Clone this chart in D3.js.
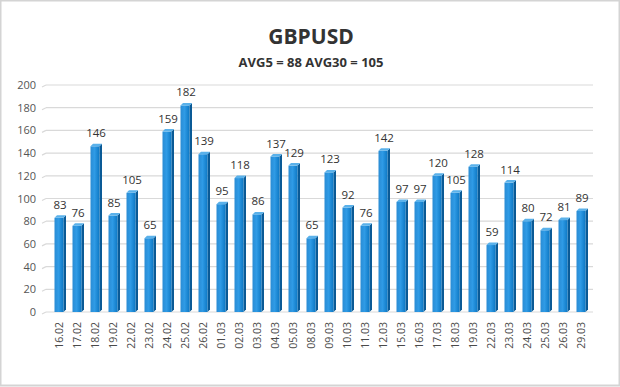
<!DOCTYPE html>
<meta charset="utf-8" />
<script src="https://d3js.org/d3.v7.js"></script>
<style>
  body { margin: 0; background: #fff; }
  text { font-family: "Open Sans", "DejaVu Sans", sans-serif; }
</style>
<div id="my_dataviz"></div>
<script>
  // data
  const dates = ["16.02", "17.02", "18.02", "19.02", "22.02", "23.02", "24.02", "25.02", "26.02",
    "01.03", "02.03", "03.03", "04.03", "05.03", "08.03", "09.03", "10.03", "11.03", "12.03",
    "15.03", "16.03", "17.03", "18.03", "19.03", "22.03", "23.03", "24.03", "25.03", "26.03", "29.03"];
  const values = [83, 76, 146, 85, 105, 65, 159, 182, 139, 95, 118, 86, 137, 129, 65, 123, 92, 76,
    142, 97, 97, 120, 105, 128, 59, 114, 80, 72, 81, 89];
  const yTicks = [0, 20, 40, 60, 80, 100, 120, 140, 160, 180, 200];
  const title = "GBPUSD";
  const subtitle = "AVG5 = 88 AVG30 = 105";

  const width = 620, height = 387;
  const svg = d3.select("#my_dataviz").append("svg")
    .attr("width", width).attr("height", height);

  // frame
  svg.append("rect")
    .attr("x", 0.5).attr("y", 0.5)
    .attr("width", width - 1).attr("height", height - 2)
    .attr("fill", "#fff").attr("stroke", "#d4d4d4").attr("stroke-width", 2);

  svg.append("text").attr("x", 311).attr("y", 44)
    .attr("text-anchor", "middle").style("font-size", "21px").style("font-weight", "bold")
    .style("fill", "#333").text(title);
  svg.append("text").attr("x", 311).attr("y", 67)
    .attr("text-anchor", "middle").style("font-size", "13px").style("font-weight", "bold")
    .style("fill", "#333").text(subtitle);

  const x = d3.scaleBand().domain(dates).range([50, 590]).paddingInner(0.5).paddingOuter(0.25);
  const y = d3.scaleLinear().domain([0, 200]).range([312, 85]);

  // grid
  svg.append("g").selectAll("line").data(yTicks).join("line")
    .attr("x1", 46).attr("x2", 593)
    .attr("y1", d => y(d)).attr("y2", d => y(d))
    .attr("stroke", "#d9d9d9").attr("stroke-width", 1.2);
  svg.append("g").selectAll("line").data(yTicks).join("line")
    .attr("x1", 42).attr("x2", 46)
    .attr("y1", d => y(d) + 2).attr("y2", d => y(d))
    .attr("stroke", "#d9d9d9").attr("stroke-width", 1.2);

  svg.append("g").selectAll("text").data(yTicks).join("text")
    .attr("x", 36).attr("y", d => y(d) + 4)
    .attr("text-anchor", "end").style("font-size", "11px").style("fill", "#555")
    .text(d => d);

  const defs = svg.append("defs");
  const grad = defs.append("linearGradient").attr("id", "barGrad")
    .attr("x1", "0%").attr("x2", "100%").attr("y1", "0%").attr("y2", "0%");
  grad.append("stop").attr("offset", "0%").attr("stop-color", "#2a8cd4");
  grad.append("stop").attr("offset", "45%").attr("stop-color", "#2f9be6");
  grad.append("stop").attr("offset", "100%").attr("stop-color", "#0d78c4");

  const bw = x.bandwidth();
  const dx = 2.5, dy = 2.5; // depth offset for the 3d look

  const bars = svg.append("g").selectAll("g").data(dates).join("g");
  // side face
  bars.append("path")
    .attr("d", (d, i) => {
      const x0 = x(d) + bw, yt = y(values[i]), yb = y(0);
      return `M${x0},${yt} L${x0 + dx},${yt - dy} L${x0 + dx},${yb - dy} L${x0},${yb} Z`;
    })
    .attr("fill", "#0a5a96");
  // front face
  bars.append("rect")
    .attr("x", d => x(d)).attr("width", bw)
    .attr("y", (d, i) => y(values[i])).attr("height", (d, i) => y(0) - y(values[i]))
    .attr("fill", "url(#barGrad)");
  // top face
  bars.append("path")
    .attr("d", (d, i) => {
      const x0 = x(d), yt = y(values[i]);
      return `M${x0},${yt} L${x0 + dx},${yt - dy} L${x0 + bw + dx},${yt - dy} L${x0 + bw},${yt} Z`;
    })
    .attr("fill", "#5ab1ea");

  // value labels
  svg.append("g").selectAll("text").data(dates).join("text")
    .attr("x", d => x(d) + bw / 2 + 1)
    .attr("y", (d, i) => y(values[i]) - 9)
    .attr("text-anchor", "middle").style("font-size", "11.5px").style("fill", "#333")
    .text((d, i) => values[i]);

  // date labels
  svg.append("g").selectAll("text").data(dates).join("text")
    .attr("transform", d => `translate(${x(d) + bw / 2 + 4},322) rotate(-90)`)
    .attr("text-anchor", "end").style("font-size", "10.5px").style("fill", "#4a4a4a")
    .text(d => d);
</script>
